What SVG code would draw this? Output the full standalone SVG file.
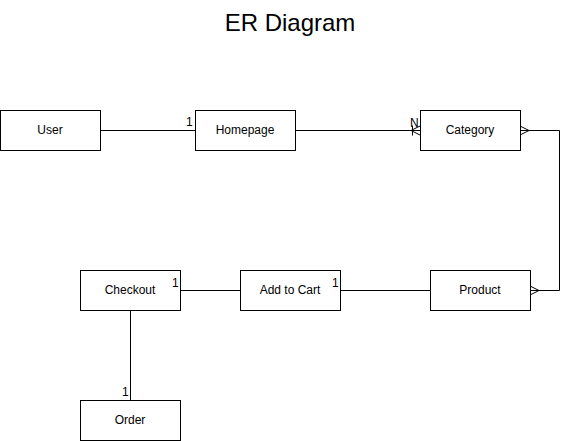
<svg xmlns="http://www.w3.org/2000/svg" width="570" height="441" viewBox="0 0 570 441">
<style>
.box{fill:#fff;stroke:#000;stroke-width:1}
.lbl{font-family:"Liberation Sans",Arial,sans-serif;font-size:12px;fill:#000;text-anchor:middle;dominant-baseline:central}
.card{font-family:"Liberation Sans",Arial,sans-serif;font-size:12px;fill:#000}
.ln{fill:none;stroke:#000;stroke-width:1}
</style>
<rect width="570" height="441" fill="#fff"/>
<text x="290" y="22" font-family="'Liberation Sans',Arial,sans-serif" font-size="24" text-anchor="middle" dominant-baseline="central">ER Diagram</text>
<g id="user"><rect class="box" x="0.5" y="110.5" width="100" height="40"/><text class="lbl" x="50" y="130">User</text></g>
<g id="homepage"><rect class="box" x="195.5" y="110.5" width="100" height="40"/><text class="lbl" x="245" y="130">Homepage</text></g>
<g id="category"><rect class="box" x="420.5" y="110.5" width="100" height="40"/><text class="lbl" x="470" y="130">Category</text></g>
<g id="product"><rect class="box" x="430.5" y="270.5" width="100" height="40"/><text class="lbl" x="480" y="290">Product</text></g>
<g id="addtocart"><rect class="box" x="240.5" y="270.5" width="100" height="40"/><text class="lbl" x="290" y="290">Add to Cart</text></g>
<g id="checkout"><rect class="box" x="80.5" y="270.5" width="100" height="40"/><text class="lbl" x="130" y="290">Checkout</text></g>
<g id="order"><rect class="box" x="80.5" y="400.5" width="100" height="40"/><text class="lbl" x="130" y="420">Order</text></g>
<g id="connectors">
<path class="ln" d="M100.5 130.5H195"/>
<path class="ln" d="M295 130.5H420"/>
<path class="ln" d="M412.5 125.5V135.5M411 130.5L420 126M411 130.5L420 135"/>
<path class="ln" d="M520 130.5H559.5V290.5H530"/>
<path class="ln" d="M520 126L529 130.5L520 135"/>
<path class="ln" d="M530 286L539 290.5L530 295"/>
<path class="ln" d="M340 290.5H430"/>
<path class="ln" d="M180 290.5H240"/>
<path class="ln" d="M130.5 310V400"/>
<text class="card" x="186" y="126">1</text>
<text class="card" x="410" y="127">N</text>
<text class="card" x="332" y="287">1</text>
<text class="card" x="172" y="287">1</text>
<text class="card" x="122" y="396">1</text>
</g>
</svg>
